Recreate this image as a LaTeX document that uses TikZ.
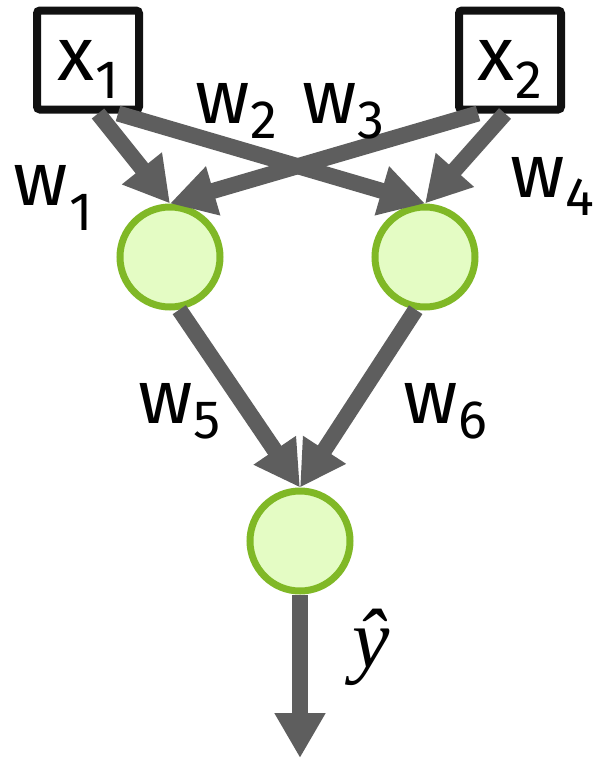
\documentclass[tikz,border=0pt]{standalone}
\usepackage{fontspec}
\setmainfont{Fira Sans}
\newfontfamily\yfont{Liberation Serif}
\usetikzlibrary{arrows.meta,calc}
\definecolor{arrowgray}{HTML}{5E5E5E}
\definecolor{nodefill}{HTML}{E4FCC4}
\definecolor{nodeline}{HTML}{80B826}
\definecolor{boxline}{HTML}{111111}
\newcommand{\mainsz}{\fontsize{76}{76}\selectfont}
\newcommand{\subsz}{\fontsize{54}{54}\selectfont}
\newcommand{\sublab}[4]{#1\kern#4pt\raisebox{-#3pt}[0pt][0pt]{\subsz #2}}
\begin{document}
\begin{tikzpicture}[x=1pt,y=-1pt,
  inbox/.style={draw=boxline, line width=8pt, rounded corners=3pt, minimum width=102pt, minimum height=99pt, inner sep=0pt, fill=white, font=\mainsz},
  neuron/.style={circle, draw=nodeline, fill=nodefill, line width=7pt, minimum size=100pt, inner sep=0pt},
  conn/.style={draw=arrowgray, line width=16pt, -{Triangle[width=48pt,length=45pt]}},
  lab/.style={anchor=base west, inner sep=0pt, font=\mainsz}]
\useasboundingbox (0,0) rectangle (593,758);
% input boxes
\node[inbox] (x1) at (88,60) {\raisebox{-4pt}{\sublab{x}{1}{18}{1}}};
\node[inbox] (x2) at (510,60) {\raisebox{-4pt}{\sublab{x}{2}{18}{1}}};
% neurons
\node[neuron] (h1) at (170,257) {};
\node[neuron] (h2) at (425,257) {};
\node[neuron] (o) at (300,541) {};
\coordinate (yend) at (300,758);
% connectors
\draw[conn] ($(x1.south)+(10,0)$) -- (h1.north);
\draw[conn] ($(x1.south)+(30,0)$) -- (h2.north);
\draw[conn] ($(x2.south)+(-32,0)$) -- (h1.north);
\draw[conn] ($(x2.south)+(-5,0)$) -- (h2.north);
\draw[conn] (h1.-80) -- (o.north);
\draw[conn] (h2.-100) -- (o.north);
\draw[conn] (o.south) -- (yend);
% weight labels
\node[lab] (lw1) at (13,205) {\sublab{w}{1}{25}{2}};
\node[lab] (lw2) at (195,123) {\sublab{w}{2}{15}{1}};
\node[lab] (lw3) at (302,123) {\sublab{w}{3}{15}{1}};
\node[lab] (lw4) at (510,197) {\sublab{w}{4}{18}{1}};
\node[lab] (lw5) at (138,423) {\sublab{w}{5}{15}{1}};
\node[lab] (lw6) at (403,423) {\sublab{w}{6}{15}{1}};
\node[inner sep=0pt, font=\yfont\itshape\fontsize{84}{84}\selectfont] (yhat) at (371,647) {ŷ};
\end{tikzpicture}
\end{document}
